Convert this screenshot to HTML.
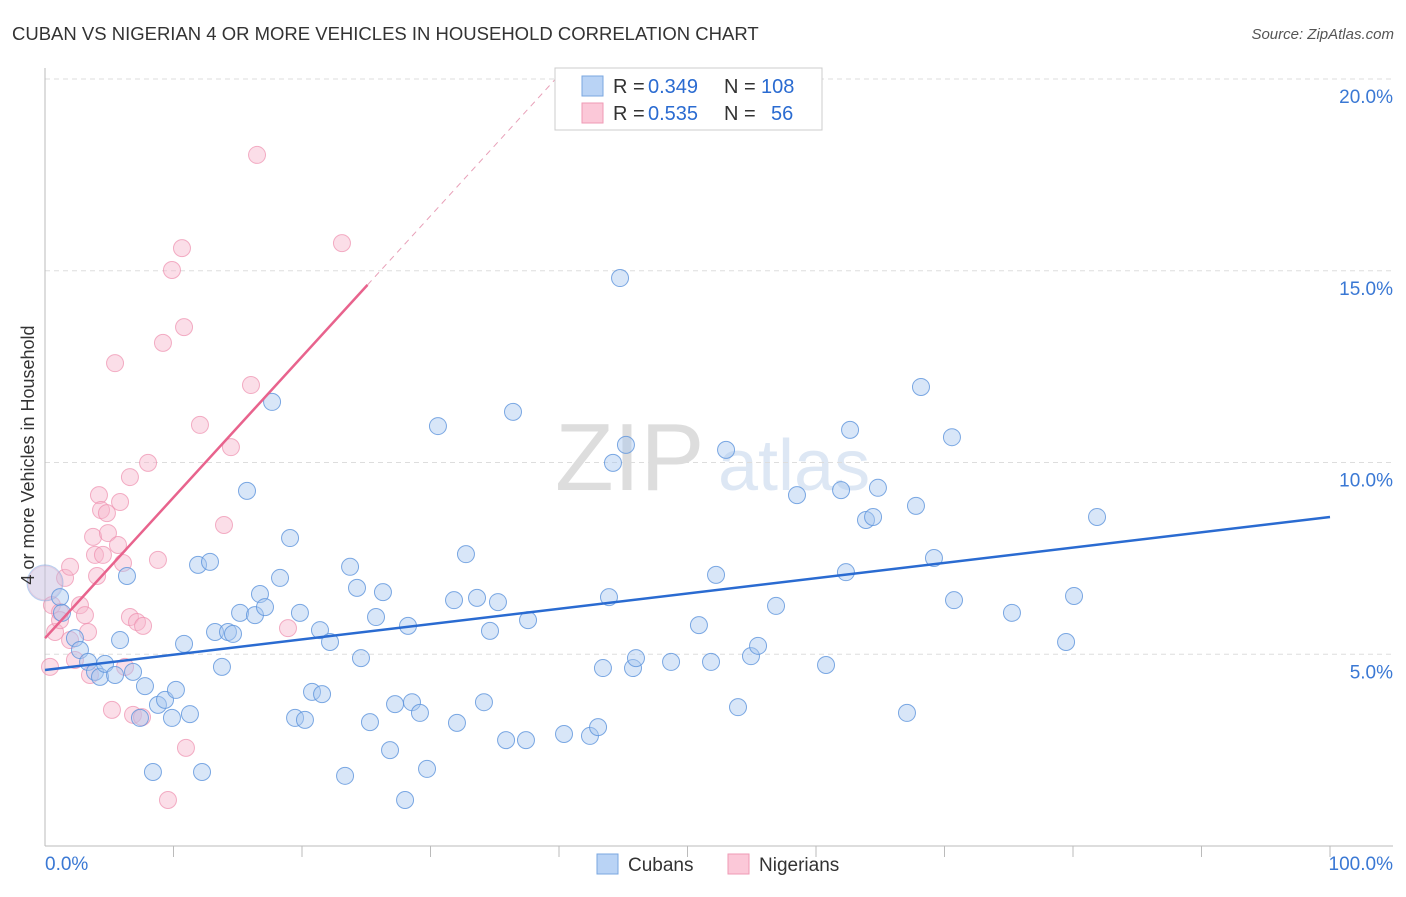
<!DOCTYPE html>
<html><head><meta charset="utf-8"><style>
body{margin:0;background:#fff;font-family:"Liberation Sans",sans-serif}
svg text{font-family:"Liberation Sans",sans-serif}
</style></head><body>
<svg id="c" width="1406" height="892">
<text x="12" y="40" font-size="18.5" fill="#333">CUBAN VS NIGERIAN 4 OR MORE VEHICLES IN HOUSEHOLD CORRELATION CHART</text>
<text x="1394" y="39" font-size="15" fill="#555" text-anchor="end" font-style="italic">Source: ZipAtlas.com</text>
<text x="555" y="490" font-size="96" fill="#ddd" font-family="Liberation Serif">ZIP</text>
<text x="718" y="490" font-size="72" fill="#c8d8ee" opacity="0.6">atlas</text>
<g id="grid"></g><g id="pts"></g><g id="lines"></g>
<text transform="translate(34,455) rotate(-90)" font-size="18" fill="#333" text-anchor="middle">4 or more Vehicles in Household</text>
<g>
<rect x="555" y="68" width="267" height="62" fill="#fff" stroke="#ccc"/>
<rect x="582" y="76" width="21" height="20" fill="#b9d3f5" stroke="#7aa7e0"/>
<rect x="582" y="103" width="21" height="20" fill="#fbc8d8" stroke="#ef9ab5"/>
<text x="613" y="93" font-size="20" fill="#333">R =</text>
<text x="648" y="93" font-size="20" fill="#2a6bd1">0.349</text>
<text x="724" y="93" font-size="20" fill="#333">N =</text>
<text x="761" y="93" font-size="20" fill="#2a6bd1">108</text>
<text x="613" y="120" font-size="20" fill="#333">R =</text>
<text x="648" y="120" font-size="20" fill="#2a6bd1">0.535</text>
<text x="724" y="120" font-size="20" fill="#333">N =</text>
<text x="771" y="120" font-size="20" fill="#2a6bd1">56</text>
</g>
<g>
<rect x="597" y="854" width="21" height="20" fill="#b9d3f5" stroke="#7aa7e0"/>
<text x="628" y="871" font-size="19" fill="#333">Cubans</text>
<rect x="728" y="854" width="21" height="20" fill="#fbc8d8" stroke="#ef9ab5"/>
<text x="759" y="871" font-size="19" fill="#333">Nigerians</text>
</g>
</svg>
<script>
const yTicks=[5,10,15,20];
const yTickLabels=["5.0%","10.0%","15.0%","20.0%"];
const xTicks=[0,10,20,30,40,50,60,70,80,90,100];
const cubanX=[0,1.17,1.32,2.33,2.72,3.35,3.89,4.28,4.67,5.45,5.84,6.38,6.85,7.39,7.78,8.4,8.79,9.34,9.88,10.19,10.82,11.28,11.91,12.22,12.84,13.23,13.77,14.24,14.63,15.18,15.72,16.34,16.73,17.12,17.67,18.29,19.07,19.46,19.84,20.23,20.78,21.56,21.4,22.18,23.35,23.74,24.28,24.59,25.29,25.76,26.3,26.85,27.24,28.02,28.25,28.56,29.18,29.73,30.58,31.83,32.06,32.76,33.62,34.16,34.63,35.25,35.88,36.42,37.43,37.59,40.39,42.41,43.04,43.42,43.89,44.2,44.75,45.21,45.76,45.99,48.72,50.89,51.83,52.22,53,53.93,54.94,55.49,56.89,58.52,60.78,61.95,62.33,62.65,63.89,64.44,64.82,67.08,67.78,68.17,69.18,70.58,70.74,75.25,79.46,80.08,81.87];
const cubanY=[6.86,6.49,6.08,5.42,5.11,4.8,4.54,4.41,4.75,4.46,5.37,7.04,4.54,3.34,4.17,1.93,3.68,3.81,3.34,4.07,5.27,3.44,7.33,1.93,7.41,5.58,4.67,5.58,5.53,6.08,9.26,6.02,6.57,6.23,11.58,6.99,8.03,3.34,6.08,3.29,4.02,3.96,5.63,5.32,1.83,7.28,6.73,4.9,3.23,5.97,6.62,2.5,3.7,1.2,5.74,3.75,3.47,2.01,10.95,6.41,3.21,7.61,6.47,3.75,5.61,6.36,2.76,11.32,2.76,5.89,2.92,2.87,3.1,4.64,6.49,9.99,14.81,10.46,4.64,4.9,4.8,5.76,4.8,7.07,10.33,3.62,4.95,5.22,6.26,9.15,4.72,9.28,7.14,10.85,8.5,8.58,9.34,3.47,8.87,11.97,7.51,10.66,6.41,6.08,5.32,6.52,8.58];
const nigX=[0,0.39,0.54,0.78,1.17,1.56,1.95,2.33,2.72,3.11,3.35,3.5,3.74,3.89,4.05,4.2,4.36,4.51,4.82,4.9,5.21,5.45,5.68,5.84,6.07,6.23,6.61,6.61,6.85,7.16,7.55,7.63,8.02,8.79,9.18,9.57,9.88,10.66,10.82,10.97,12.06,13.93,14.47,16.03,16.5,18.91,23.11,1.95,1.17];
const nigY=[6.86,4.67,6.28,5.58,6.1,6.99,7.28,4.85,6.28,6.02,5.58,4.46,8.06,7.59,7.04,9.15,8.76,7.59,8.68,8.16,3.55,12.59,7.85,8.97,7.38,4.67,9.62,5.97,3.42,5.84,3.36,5.74,9.99,7.46,13.12,1.2,15.02,15.59,13.53,2.56,10.98,8.37,10.4,12.02,18.02,5.68,15.72,5.37,5.89];
const cubanTrend=[4.59,8.58];
const nigTrend=[5.42,0.367];
const NS="http://www.w3.org/2000/svg";
const X=v=>45+v*12.85, Y=v=>846-v*38.35;
function mk(t,a,p){const e=document.createElementNS(NS,t);for(const k in a)e.setAttribute(k,a[k]);p.appendChild(e);return e;}
const g=document.getElementById('grid');
yTicks.forEach((t,i)=>{
 const l=mk('line',{x1:45,x2:1393,y1:Y(t),y2:Y(t),stroke:'#ddd','stroke-dasharray':'5,4'},g);
 
 
 const tx=mk('text',{x:1393,y:Y(t)+24,'text-anchor':'end','font-size':19,fill:'#3a78d4'},g);
 tx.textContent=yTickLabels[i];
 
 
});
const ax=mk('line',{x1:45,x2:45,y1:68,y2:846,stroke:'#bbb'},g);


const bx=mk('line',{x1:45,x2:1393,y1:846,y2:846,stroke:'#bbb'},g);


xTicks.forEach(t=>{if(t===0)return;
 const l=mk('line',{x1:X(t),x2:X(t),y1:846,y2:857,stroke:'#bbb'},g);
 
 });
const x0=mk('text',{x:45,y:870,'font-size':19,fill:'#3a78d4'},g);x0.textContent='0.0%';


const x1=mk('text',{x:1393,y:870,'font-size':19,fill:'#3a78d4','text-anchor':'end'},g);x1.textContent='100.0%';


const p=document.getElementById('pts');
nigX.forEach((x,i)=>{const c=mk('circle',{cx:X(x),cy:Y(nigY[i]),r:i===0?17:8.5,fill:'#f7b6cb',"fill-opacity":i===0?0.3:0.45,stroke:'#ee8fae','stroke-opacity':i===0?0.4:0.7},p);
 
 });
cubanX.forEach((x,i)=>{const c=mk('circle',{cx:X(x),cy:Y(cubanY[i]),r:i===0?18:8.5,fill:'#a8c8f0',"fill-opacity":i===0?0.3:0.45,stroke:'#5c93dc','stroke-opacity':i===0?0.4:0.8},p);
 
 });
const L=document.getElementById('lines');
const bl=mk('line',{x1:X(0),y1:Y(cubanTrend[0]),x2:X(100),y2:Y(cubanTrend[1]),stroke:'#2a6bd1','stroke-width':2.5},L);


const pl=mk('line',{x1:X(0),y1:Y(nigTrend[0]),x2:X(25.1),y2:Y(nigTrend[0]+nigTrend[1]*25.1),stroke:'#e8638d','stroke-width':2.5},L);


const pd=mk('line',{x1:X(25.1),y1:Y(nigTrend[0]+nigTrend[1]*25.1),x2:X(40),y2:Y(nigTrend[0]+nigTrend[1]*40),stroke:'#e8a0b8','stroke-width':1,'stroke-dasharray':'6,5'},L);


</script>
</body></html>
